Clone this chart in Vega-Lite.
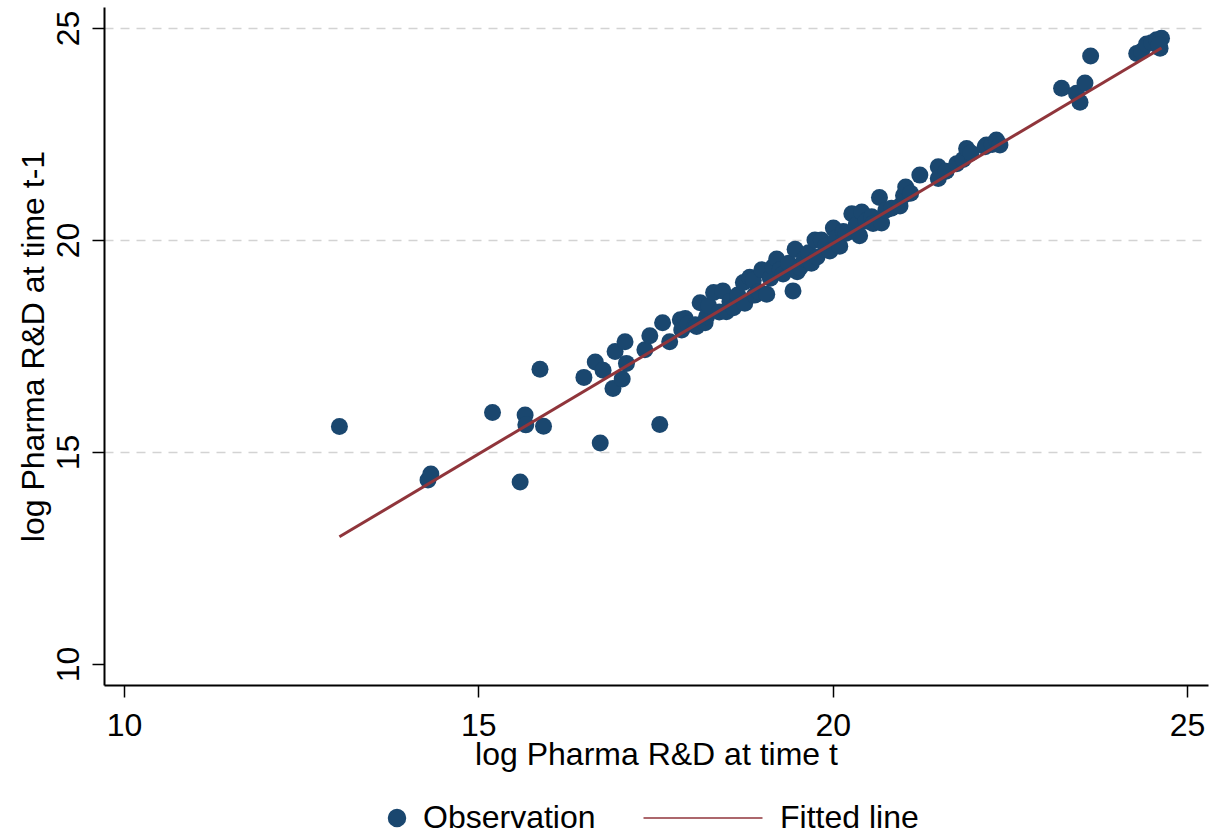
{
  "$schema": "https://vega.github.io/schema/vega-lite/v6.json",
  "width": 1104,
  "height": 678,
  "autosize": {"type": "none"},
  "padding": {"left": 104, "top": 7, "right": 10, "bottom": 151},
  "background": "white",
  "config": {"view": {"stroke": null}, "font": "Liberation Sans"},
  "data": {
    "values": [
      {"series": "Observation", "x": 13.04, "y": 15.60},
      {"series": "Observation", "x": 14.29, "y": 14.34},
      {"series": "Observation", "x": 14.33, "y": 14.48},
      {"series": "Observation", "x": 15.20, "y": 15.93},
      {"series": "Observation", "x": 15.59, "y": 14.29},
      {"series": "Observation", "x": 15.66, "y": 15.87},
      {"series": "Observation", "x": 15.67, "y": 15.64},
      {"series": "Observation", "x": 15.92, "y": 15.61},
      {"series": "Observation", "x": 15.87, "y": 16.95},
      {"series": "Observation", "x": 16.49, "y": 16.76},
      {"series": "Observation", "x": 16.65, "y": 17.12},
      {"series": "Observation", "x": 16.72, "y": 15.21},
      {"series": "Observation", "x": 16.76, "y": 16.93},
      {"series": "Observation", "x": 16.90, "y": 16.50},
      {"series": "Observation", "x": 16.93, "y": 17.37},
      {"series": "Observation", "x": 17.03, "y": 16.72},
      {"series": "Observation", "x": 17.07, "y": 17.60},
      {"series": "Observation", "x": 17.09, "y": 17.09},
      {"series": "Observation", "x": 17.35, "y": 17.41},
      {"series": "Observation", "x": 17.42, "y": 17.74},
      {"series": "Observation", "x": 17.56, "y": 15.65},
      {"series": "Observation", "x": 17.60, "y": 18.05},
      {"series": "Observation", "x": 17.70, "y": 17.60},
      {"series": "Observation", "x": 17.85, "y": 18.12},
      {"series": "Observation", "x": 17.87, "y": 17.88},
      {"series": "Observation", "x": 17.92, "y": 18.15},
      {"series": "Observation", "x": 17.96, "y": 18.02},
      {"series": "Observation", "x": 18.06, "y": 18.00},
      {"series": "Observation", "x": 18.08, "y": 17.96},
      {"series": "Observation", "x": 18.13, "y": 18.52},
      {"series": "Observation", "x": 18.20, "y": 18.05},
      {"series": "Observation", "x": 18.22, "y": 18.19},
      {"series": "Observation", "x": 18.25, "y": 18.45},
      {"series": "Observation", "x": 18.32, "y": 18.76},
      {"series": "Observation", "x": 18.40, "y": 18.30},
      {"series": "Observation", "x": 18.45, "y": 18.80},
      {"series": "Observation", "x": 18.50, "y": 18.31},
      {"series": "Observation", "x": 18.55, "y": 18.55},
      {"series": "Observation", "x": 18.60, "y": 18.40},
      {"series": "Observation", "x": 18.66, "y": 18.70},
      {"series": "Observation", "x": 18.74, "y": 19.00},
      {"series": "Observation", "x": 18.76, "y": 18.51},
      {"series": "Observation", "x": 18.83, "y": 19.12},
      {"series": "Observation", "x": 18.88, "y": 19.05},
      {"series": "Observation", "x": 18.90, "y": 18.70},
      {"series": "Observation", "x": 18.96, "y": 18.78},
      {"series": "Observation", "x": 19.00, "y": 19.30},
      {"series": "Observation", "x": 19.07, "y": 18.72},
      {"series": "Observation", "x": 19.12, "y": 19.10},
      {"series": "Observation", "x": 19.16, "y": 19.37},
      {"series": "Observation", "x": 19.21, "y": 19.55},
      {"series": "Observation", "x": 19.26, "y": 19.30},
      {"series": "Observation", "x": 19.30, "y": 19.20},
      {"series": "Observation", "x": 19.38, "y": 19.45},
      {"series": "Observation", "x": 19.44, "y": 18.80},
      {"series": "Observation", "x": 19.47, "y": 19.78},
      {"series": "Observation", "x": 19.50, "y": 19.25},
      {"series": "Observation", "x": 19.54, "y": 19.35},
      {"series": "Observation", "x": 19.60, "y": 19.55},
      {"series": "Observation", "x": 19.66, "y": 19.70},
      {"series": "Observation", "x": 19.70, "y": 19.45},
      {"series": "Observation", "x": 19.75, "y": 20.00},
      {"series": "Observation", "x": 19.78, "y": 19.60},
      {"series": "Observation", "x": 19.84, "y": 20.00},
      {"series": "Observation", "x": 19.90, "y": 19.85},
      {"series": "Observation", "x": 19.96, "y": 19.74},
      {"series": "Observation", "x": 20.01, "y": 20.28},
      {"series": "Observation", "x": 20.05, "y": 20.05},
      {"series": "Observation", "x": 20.10, "y": 19.85},
      {"series": "Observation", "x": 20.15, "y": 20.20},
      {"series": "Observation", "x": 20.19, "y": 20.16},
      {"series": "Observation", "x": 20.27, "y": 20.62},
      {"series": "Observation", "x": 20.33, "y": 20.35},
      {"series": "Observation", "x": 20.38, "y": 20.10},
      {"series": "Observation", "x": 20.41, "y": 20.66},
      {"series": "Observation", "x": 20.47, "y": 20.45},
      {"series": "Observation", "x": 20.55, "y": 20.55},
      {"series": "Observation", "x": 20.57, "y": 20.39},
      {"series": "Observation", "x": 20.66, "y": 21.00},
      {"series": "Observation", "x": 20.69, "y": 20.40},
      {"series": "Observation", "x": 20.75, "y": 20.70},
      {"series": "Observation", "x": 20.83, "y": 20.75},
      {"series": "Observation", "x": 20.95, "y": 20.80},
      {"series": "Observation", "x": 21.00, "y": 21.05},
      {"series": "Observation", "x": 21.03, "y": 21.25},
      {"series": "Observation", "x": 21.10, "y": 21.10},
      {"series": "Observation", "x": 21.23, "y": 21.53},
      {"series": "Observation", "x": 21.49, "y": 21.73},
      {"series": "Observation", "x": 21.49, "y": 21.45},
      {"series": "Observation", "x": 21.60, "y": 21.62},
      {"series": "Observation", "x": 21.75, "y": 21.80},
      {"series": "Observation", "x": 21.84, "y": 21.90},
      {"series": "Observation", "x": 21.89, "y": 22.16},
      {"series": "Observation", "x": 21.95, "y": 22.05},
      {"series": "Observation", "x": 22.15, "y": 22.20},
      {"series": "Observation", "x": 22.17, "y": 22.24},
      {"series": "Observation", "x": 22.25, "y": 22.25},
      {"series": "Observation", "x": 22.31, "y": 22.36},
      {"series": "Observation", "x": 22.36, "y": 22.24},
      {"series": "Observation", "x": 23.23, "y": 23.58},
      {"series": "Observation", "x": 23.44, "y": 23.46},
      {"series": "Observation", "x": 23.49, "y": 23.25},
      {"series": "Observation", "x": 23.56, "y": 23.70},
      {"series": "Observation", "x": 23.64, "y": 24.34},
      {"series": "Observation", "x": 24.29, "y": 24.40},
      {"series": "Observation", "x": 24.36, "y": 24.45},
      {"series": "Observation", "x": 24.43, "y": 24.62},
      {"series": "Observation", "x": 24.50, "y": 24.65},
      {"series": "Observation", "x": 24.57, "y": 24.72},
      {"series": "Observation", "x": 24.64, "y": 24.76},
      {"series": "Observation", "x": 24.62, "y": 24.52},
      {"series": "Observation", "x": 24.60, "y": 24.60},
      {"series": "Fitted line", "x": 13.04, "y": 13.00},
      {"series": "Fitted line", "x": 24.64, "y": 24.53}
    ]
  },
  "layer": [
    {
      "transform": [{"filter": "datum.series === 'Observation'"}],
      "mark": {"type": "point", "filled": true, "size": 289, "opacity": 1},
      "encoding": {
        "x": {
          "field": "x", "type": "quantitative",
          "scale": {"domain": [9.718, 25.296], "nice": false, "zero": false},
          "axis": {
            "values": [10, 15, 20, 25], "format": "d",
            "title": "log Pharma R&D at time t",
            "grid": false,
            "labelFontSize": 32, "labelColor": "black", "labelFont": "Liberation Sans",
            "labelBaseline": "alphabetic", "labelPadding": 38, "labelFlush": false, "labelOverlap": false,
            "tickSize": 12, "tickColor": "black", "tickWidth": 1.5,
            "domainColor": "black", "domainWidth": 2,
            "titleFontSize": 32, "titleFontWeight": "normal", "titleColor": "black", "titleFont": "Liberation Sans",
            "titleBaseline": "alphabetic", "titleX": 552, "titleY": 79
          }
        },
        "y": {
          "field": "y", "type": "quantitative",
          "scale": {"domain": [9.505, 25.495], "nice": false, "zero": false},
          "axis": {
            "values": [10, 15, 20, 25], "format": "d",
            "title": "log Pharma R&D at time t-1",
            "grid": true, "gridDash": [9, 7], "gridColor": "#d3d3d3", "gridWidth": 1.5,
            "gridOpacity": {"condition": {"test": "datum.value === 10", "value": 0}, "value": 1},
            "labelAngle": -90, "labelAlign": "center", "labelBaseline": "alphabetic", "labelPadding": 14,
            "labelFontSize": 32, "labelColor": "black", "labelFont": "Liberation Sans", "labelFlush": false, "labelOverlap": false,
            "tickSize": 12, "tickColor": "black", "tickWidth": 1.5,
            "domainColor": "black", "domainWidth": 2,
            "titleFontSize": 32, "titleFontWeight": "normal", "titleColor": "black", "titleFont": "Liberation Sans",
            "titleAngle": -90, "titleBaseline": "alphabetic", "titleX": -61, "titleY": 339
          }
        },
        "color": {
          "field": "series", "type": "nominal",
          "scale": {"domain": ["Observation", "Fitted line"], "range": ["#1a476f", "#90353b"]},
          "legend": {
            "title": null, "orient": "none", "legendX": 277, "legendY": 795, "direction": "horizontal",
            "symbolSize": 289, "labelFontSize": 32, "labelFont": "Liberation Sans", "labelColor": "black", "labelLimit": 0,
            "labelOffset": 10, "columnPadding": 44, "padding": 0,
            "encode": {"symbols": {"update": {"stroke": {"scale": "color", "field": "value"}, "strokeWidth": {"signal": "datum.value === 'Fitted line' ? 3 : 0"}}}}
          }
        },
        "shape": {
          "field": "series", "type": "nominal",
          "scale": {"domain": ["Observation", "Fitted line"], "range": ["circle", "M-13,0H1"]},
          "legend": {
            "title": null, "orient": "none", "legendX": 277, "legendY": 795, "direction": "horizontal",
            "symbolSize": 289, "labelFontSize": 32, "labelFont": "Liberation Sans", "labelColor": "black", "labelLimit": 0,
            "labelOffset": 10, "columnPadding": 44, "padding": 0,
            "encode": {"symbols": {"update": {"stroke": {"scale": "color", "field": "value"}, "strokeWidth": {"signal": "datum.value === 'Fitted line' ? 3 : 0"}}}}
          }
        }
      }
    },
    {
      "transform": [{"filter": "datum.series === 'Fitted line'"}],
      "mark": {"type": "line", "strokeWidth": 3},
      "encoding": {
        "x": {"field": "x", "type": "quantitative"},
        "y": {"field": "y", "type": "quantitative"},
        "color": {"field": "series", "type": "nominal"}
      }
    }
  ]
}
